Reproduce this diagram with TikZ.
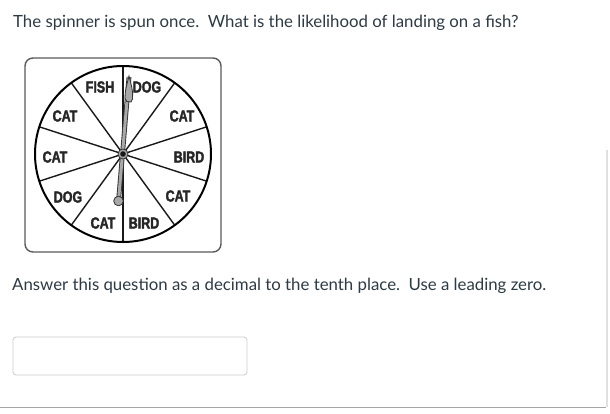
\documentclass[tikz,border=0pt]{standalone}
\usepackage{fontspec}
\setmainfont{Lato}
\newfontfamily\spinfont[FakeStretch=0.78, FakeBold=2]{Liberation Sans Bold}
\definecolor{txt}{HTML}{2D3B45}
\definecolor{boxline}{HTML}{C7CDD1}
\definecolor{needle}{HTML}{A8A8A8}
\definecolor{frame}{HTML}{5A5A5A}
\tikzset{
  qtext/.style={anchor=base west, inner sep=0pt, text=txt, font=\fontsize{16.8}{19}\selectfont},
  lab/.style={inner sep=0pt, font=\spinfont\fontsize{16}{16}\selectfont, text=black!85},
  sector/.style={line width=1.4pt, black!90},
}
\begin{document}
\begin{tikzpicture}[x=1pt,y=-1pt]
\useasboundingbox (0,0) rectangle (610,413);
\fill[white] (0,0) rectangle (610,413);
\node[qtext] (q1) at (13,27) {The spinner is spun once.\ \ What is the likelihood of landing on a fish?};
\node[qtext] (q2) at (12,290) {Answer this question as a decimal to the tenth place.\ \ Use a leading zero.};
% spinner frame
\draw[frame, line width=1.4pt, rounded corners=8pt] (25,58) rectangle (221,252);
\coordinate (c) at (123,154);
\foreach \a in {90,126,162,198,234,270,306,342,18,54}{
  \draw[sector] (c) -- ++(\a:88);
}
\draw[line width=2pt, black] (c) circle[radius=88];
% labels
\node[lab] (l1) at (100,87) {FISH};
\node[lab] (l2) at (147,87) {DOG};
\node[lab] (l3) at (182,116) {CAT};
\node[lab] (l4) at (189,157) {BIRD};
\node[lab] (l5) at (178,196) {CAT};
\node[lab] (l6) at (144,223) {BIRD};
\node[lab] (l7) at (103,223) {CAT};
\node[lab] (l8) at (68,197) {DOG};
\node[lab] (l9) at (55,157) {CAT};
\node[lab] (l10) at (65,116) {CAT};
% needle
\coordinate (tip) at (129,77);
\coordinate (knob) at (118.5,201);
\draw[line width=4.8pt, black!80] (knob) -- (tip);
\draw[line width=3pt, needle] (knob) -- (tip);
\filldraw[fill=needle, draw=black!80, line width=0.8pt] (129,76) .. controls (131,84) and (133.5,92) .. (132.5,99) -- (131,102) -- (126.8,101.5) -- (125,98) .. controls (124.8,91) and (127,84) .. (129,76) -- cycle;
\filldraw[fill=needle, draw=black!80, line width=0.8pt] (knob) circle[radius=4.8];
\filldraw[fill=needle, draw=black!80, line width=0.8pt] (c) circle[radius=5];
\fill[black!90] (c) circle[radius=2.8];
% answer box
\draw[boxline, line width=0.8pt, rounded corners=3pt] (13,337) rectangle (247,375);
\draw[black!35, line width=1pt] (0,407) -- (606,407);
\draw[black!12, line width=2pt] (607,150) -- (607,407);
\end{tikzpicture}
\end{document}
